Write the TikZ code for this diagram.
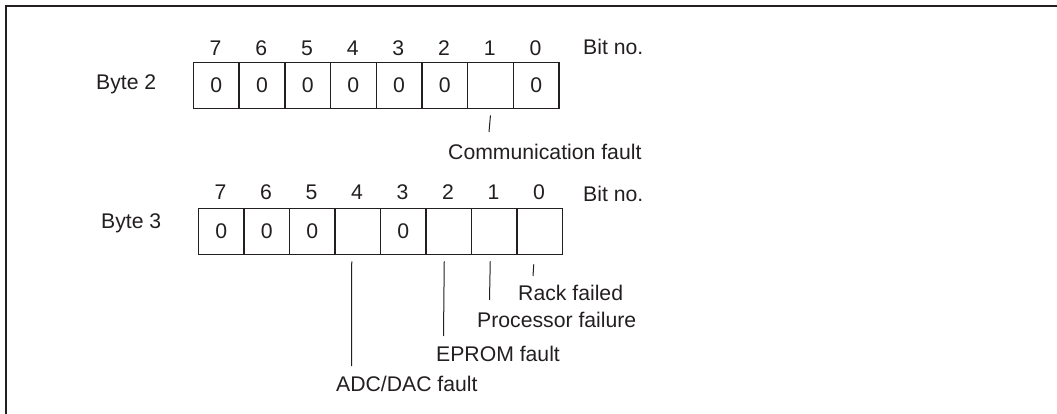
\documentclass[tikz,border=0pt]{standalone}
\usepackage{fontspec}
\setmainfont{Liberation Sans}
\begin{document}
\begin{tikzpicture}[x=1pt,y=-1pt,
  cell/.style={draw=linec,line width=1.4pt,minimum width=45.7pt,minimum height=46.3pt,inner sep=0pt,anchor=north west,text=linec,font=\fontsize{21.2}{25}\selectfont},
  txt/.style={inner sep=0pt,anchor=base west,text=linec,font=\fontsize{21.2}{25}\selectfont},
  bitno/.style={inner sep=0pt,anchor=base,text=linec,font=\fontsize{21.2}{25}\selectfont},
  tick/.style={draw=linec,line width=1pt}]
\definecolor{linec}{HTML}{231F20}
\useasboundingbox (0,0) rectangle (1057,414);
% frame
\draw[draw=linec,line width=2pt] (6,414) -- (6,6) -- (1057,6);

% Byte 2
\node[txt] (lb2) at (96,89.5) {Byte 2};
\foreach \i/\v in {7/0,6/0,5/0,4/0,3/0,2/0,1/{},0/0}{
  \node[cell] (b2c\i) at ({192.7+(7-\i)*45.7},61.7) {\v};
  \node[bitno] (b2n\i) at ({192.7+(7-\i)*45.7+22.85},56) {\i};
}
\node[txt] (bn2) at (583,55) {Bit no.};
\coordinate (c2e) at (489,132);
\draw[tick] ([yshift=-6pt]b2c1.south) -- (c2e);
\node[txt] (cf) at (448,160) {Communication fault};

% Byte 3
\node[txt] (lb3) at (101,228) {Byte 3};
\foreach \i/\v in {7/0,6/0,5/0,4/{},3/0,2/{},1/{},0/{}}{
  \node[cell] (b3c\i) at ({197.7+(7-\i)*45.5},207.7) {\v};
  \node[bitno] (b3n\i) at ({197.7+(7-\i)*45.5+22.75},200) {\i};
}
\node[txt] (bn3) at (583,201) {Bit no.};
\coordinate (c4e) at (351.5,366);
\coordinate (c2x) at (443.5,336);
\coordinate (c1e) at (489.5,300);
\coordinate (c0e) at (533,276);
\draw[tick] ([xshift=-6pt,yshift=-6pt]b3c4.south) -- (c4e);
\draw[tick] ([xshift=-4.5pt,yshift=-6pt]b3c2.south) -- (c2x);
\draw[tick] ([xshift=-4pt,yshift=-6pt]b3c1.south) -- (c1e);
\draw[tick] ([xshift=-6pt,yshift=-9pt]b3c0.south) -- (c0e);
\node[txt] (rf) at (518,300) {Rack failed};
\node[txt] (pf) at (477,327) {Processor failure};
\node[txt] (ef) at (436,361) {EPROM fault};
\node[txt] (af) at (336,391) {ADC/DAC fault};
\end{tikzpicture}
\end{document}
